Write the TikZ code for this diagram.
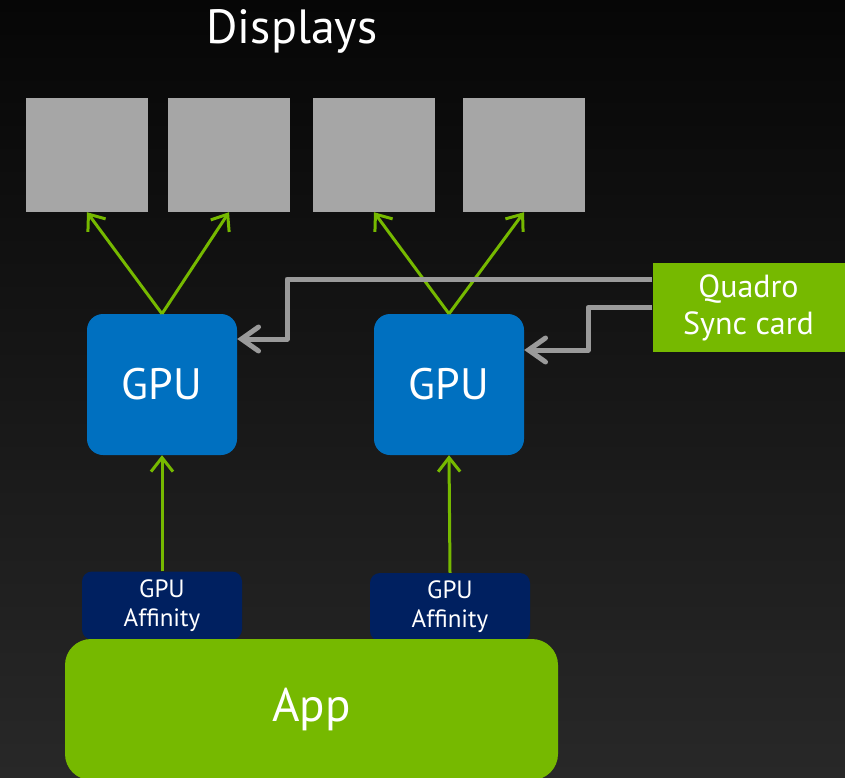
\documentclass[tikz,border=0pt]{standalone}
\usepackage{fontspec}
\setmainfont{PT Sans}
\usetikzlibrary{arrows.meta,calc}
\definecolor{nvgreen}{HTML}{76B900}
\definecolor{gpublue}{HTML}{0070C0}
\definecolor{navy}{HTML}{002060}
\definecolor{screen}{HTML}{A6A6A6}
\definecolor{wire}{HTML}{9A9A9A}
\definecolor{bgtop}{HTML}{060606}
\definecolor{bgbot}{HTML}{282828}
\tikzset{
  display/.style={fill=screen, draw=none, minimum width=122pt, minimum height=114pt, inner sep=0pt},
  gpubox/.style={fill=gpublue, draw=none, rounded corners=16pt, minimum width=150pt, minimum height=141pt,
                 text=white, font=\fontsize{44}{48}\selectfont, inner sep=0pt},
  affbox/.style={fill=navy, draw=none, rounded corners=10pt, minimum width=160pt, minimum height=68pt,
                 text=white, font=\fontsize{25}{29}\selectfont, align=center, inner sep=0pt},
  appbox/.style={fill=nvgreen, draw=none, rounded corners=26pt, minimum width=493pt, minimum height=141pt,
                 text=white, font=\fontsize{47}{50}\selectfont, inner sep=0pt},
  syncbox/.style={fill=nvgreen, draw=none, minimum width=192pt, minimum height=89pt,
                  text=white, font=\fontsize{32}{37}\selectfont, align=center, inner sep=0pt},
  signal/.style={draw=nvgreen, line width=3pt, -{Straight Barb[length=14pt,width=22pt]}},
  syncline/.style={draw=wire, line width=5pt, line join=round,
                   -{Straight Barb[length=17pt,width=24pt,line cap=round]}},
}
\begin{document}
\begin{tikzpicture}[x=1pt,y=-1pt]
  % backdrop
  \useasboundingbox (0,0) rectangle (845,778);
  \clip (0,0) rectangle (845,778);
  \shade[top color=bgtop, bottom color=bgbot] (0,0) rectangle (845,778);

  % title
  \node[text=white, font=\fontsize{48}{52}\selectfont] (title) at (292,31) {Displays};

  % monitors
  \node[display] (d1) at (87,155) {};
  \node[display] (d2) at (229,155) {};
  \node[display] (d3) at (374,155) {};
  \node[display] (d4) at (524,155) {};

  % graphics cards
  \node[gpubox] (g1) at (162,384.5) {GPU};
  \node[gpubox] (g2) at (449,384.5) {GPU};

  % affinity masks
  \node[affbox] (a1) at (162,605.5) {GPU\\Affinity};
  \node[affbox] (a2) at (450,607) {GPU\\Affinity};

  % application
  \node[appbox] (app) at (311.5,709.5) {\raisebox{-5pt}{App}};

  % sync card
  \node[syncbox] (q) at (748.5,307.5) {Quadro\\Sync card};

  % display outputs
  \draw[signal] (g1.north) -- (d1.south);
  \draw[signal] (g1.north) -- (d2.south);
  \draw[signal] (g2.north) -- (d3.south);
  \draw[signal] (g2.north) -- (d4.south);

  % affinity to GPU
  \draw[signal] (a1.north) -- (g1.south);
  \draw[signal] (a2.north) -- (g2.south);

  % framelock wiring
  \coordinate (k1) at (287,279);
  \coordinate (k2) at (588,307.5);
  \draw[syncline] ([yshift=28.5pt]q.west) -- (k1) |- ([yshift=45.5pt]g1.east);
  \draw[syncline] (q.west) -- (k2) |- ([yshift=34.5pt]g2.east);
\end{tikzpicture}
\end{document}
